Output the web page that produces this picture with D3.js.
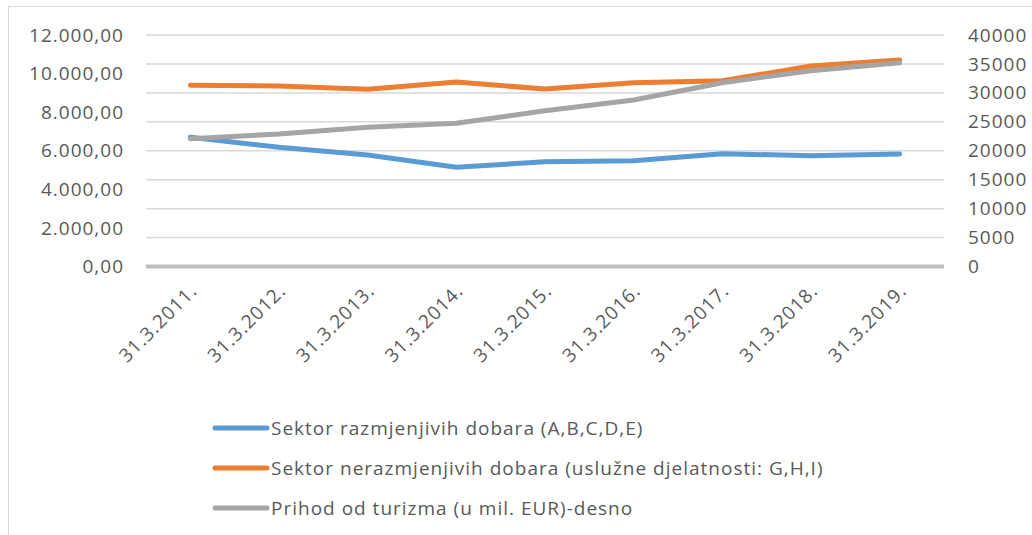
<!DOCTYPE html>
<html>
<head>
<meta charset="utf-8">
<script src="https://cdn.jsdelivr.net/npm/d3@7"></script>
<style>
  body { margin: 0; background: #fff; }
  #chart text { font-family: "Open Sans", Lato, sans-serif; fill: #595959; letter-spacing: 1px; }
</style>
</head>
<body>
<div id="chart"></div>
<script>
const categories = ['31.3.2011.', '31.3.2012.', '31.3.2013.', '31.3.2014.', '31.3.2015.',
  '31.3.2016.', '31.3.2017.', '31.3.2018.', '31.3.2019.'];
const tradable = [6700, 6180, 5780, 5140, 5430, 5480, 5850, 5740, 5830];
const nonTradable = [9390, 9360, 9190, 9560, 9200, 9530, 9630, 10390, 10700];
const tourism = [22080, 22890, 24050, 24740, 26920, 28770, 31760, 33830, 35210];
const leftTicks = [0, 2000, 4000, 6000, 8000, 10000, 12000];
const rightTicks = [0, 5000, 10000, 15000, 20000, 25000, 30000, 35000, 40000];
const seriesNames = [
  'Sektor razmjenjivih dobara (A,B,C,D,E)',
  'Sektor nerazmjenjivih dobara (uslužne djelatnosti: G,H,I)',
  'Prihod od turizma (u mil. EUR)-desno'
];

const width = 1032;
const height = 535;
const plot = {left: 146, right: 944, top: 35, bottom: 266.5};
const colors = ['#5b9bd5', '#ed7d31', '#a5a5a5'];
const fontSize = '19px';

const svg = d3.select('#chart')
  .append('svg')
    .attr('width', width)
    .attr('height', height);

// chart border
svg.append('rect')
  .attr('x', 8.5)
  .attr('y', 6.5)
  .attr('width', width + 20)
  .attr('height', height + 20)
  .attr('fill', 'none')
  .attr('stroke', '#d9d9d9');

const x = d3.scaleBand()
  .domain(categories)
  .range([plot.left, plot.right]);
const yLeft = d3.scaleLinear()
  .domain([0, 12000])
  .range([plot.bottom, plot.top]);
const yRight = d3.scaleLinear()
  .domain([0, 40000])
  .range([plot.bottom, plot.top]);

const fmt = d3.formatLocale({decimal: ',', thousands: '.', grouping: [3], currency: ['', '']}).format(',.2f');

// gridlines follow the secondary axis
svg.append('g')
  .selectAll('line')
  .data(rightTicks.filter(d => d > 0))
  .join('line')
    .attr('x1', plot.left)
    .attr('x2', plot.right)
    .attr('y1', d => yRight(d))
    .attr('y2', d => yRight(d))
    .attr('stroke', '#d9d9d9')
    .attr('stroke-width', 1.5);

const leftAxis = svg.append('g')
  .attr('transform', `translate(${plot.left - 22}, 0)`)
  .call(d3.axisLeft(yLeft).tickValues(leftTicks).tickFormat(fmt).tickSize(0).tickPadding(0));
const rightAxis = svg.append('g')
  .attr('transform', `translate(${plot.right + 24}, 0)`)
  .call(d3.axisRight(yRight).tickValues(rightTicks).tickFormat(d3.format('d')).tickSize(0).tickPadding(0));
[leftAxis, rightAxis].forEach(a => {
  a.select('.domain').remove();
  a.selectAll('text').style('font-size', fontSize);
});

// zero axis line
svg.append('line')
  .attr('x1', plot.left)
  .attr('x2', plot.right)
  .attr('y1', yLeft(0))
  .attr('y2', yLeft(0))
  .attr('stroke', '#bfbfbf')
  .attr('stroke-width', 4);

// category labels
svg.append('g')
  .selectAll('text')
  .data(categories)
  .join('text')
    .attr('transform', d => `translate(${x(d) + x.bandwidth() / 2 + 8}, 292) rotate(-45)`)
    .attr('text-anchor', 'end')
    .style('font-size', fontSize)
    .text(d => d);

const cx = d => x(d) + x.bandwidth() / 2;
const lines = [
  {values: tradable, y: yLeft},
  {values: nonTradable, y: yLeft},
  {values: tourism, y: yRight}
];
lines.forEach((s, i) => {
  const line = d3.line()
    .x((d, j) => cx(categories[j]))
    .y(d => s.y(d));
  svg.append('path')
    .datum(s.values)
    .attr('fill', 'none')
    .attr('stroke', colors[i])
    .attr('stroke-width', 5)
    .attr('stroke-linecap', 'round')
    .attr('stroke-linejoin', 'round')
    .attr('d', line);
});

// legend
const legend = svg.append('g')
  .selectAll('g')
  .data(seriesNames)
  .join('g')
    .attr('transform', (d, i) => `translate(215, ${428 + i * 40})`);
legend.append('line')
  .attr('x1', 0)
  .attr('x2', 52)
  .attr('stroke', (d, i) => colors[i])
  .attr('stroke-width', 5)
  .attr('stroke-linecap', 'round');
legend.append('text')
  .attr('x', 56)
  .attr('dy', '0.35em')
  .style('font-size', fontSize)
  .text(d => d);
</script>
</body>
</html>
